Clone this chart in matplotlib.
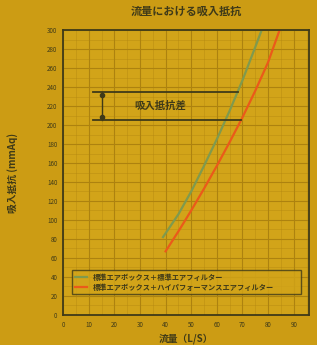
import numpy as np
import matplotlib
matplotlib.use("Agg")
from matplotlib import pyplot as plt

plt.rcParams['font.family'] = ['Noto Sans CJK JP', 'DejaVu Sans']

# datos
flujo_std = [39, 45, 50, 55, 60, 65, 70, 75, 77.5]
res_std = [82, 106, 130, 157, 185, 215, 247, 282, 300]
flujo_hp = [40, 45, 50, 55, 60, 65, 70, 75, 80, 84.5]
res_hp = [67, 88, 110, 133, 157, 182, 208, 236, 266, 300]
label_std = "標準エアボックス＋標準エアフィルター"
label_hp = "標準エアボックス＋ハイパフォーマンスエアフィルター"
diff_top = 235
diff_bot = 205
xticks = list(range(0, 100, 10))
yticks = list(range(0, 320, 20))

bg = "#cc9c14"
grid_c = "#ad820f"
dark = "#3f3a18"

fig = plt.figure(figsize=(3.17, 3.45), dpi=100, facecolor=bg)
ax = fig.add_axes([0.199, 0.087, 0.776, 0.826], facecolor="#d2a419")

ax.plot(flujo_std, res_std, color="#7f9a4e", lw=1.6, label=label_std)
ax.plot(flujo_hp, res_hp, color="#ea5a1a", lw=1.6, label=label_hp)

ax.set_xlim(0, 96)
ax.set_ylim(0, 300)
ax.set_xticks(xticks)
ax.set_yticks(yticks)
ax.set_xticks(np.arange(5, 96, 10), minor=True)
ax.set_yticks(np.arange(10, 300, 20), minor=True)
ax.grid(True, which="major", color=grid_c, lw=0.8)
ax.grid(True, which="minor", color=grid_c, lw=0.4, alpha=0.6)
ax.tick_params(which="both", length=0, labelsize=4.5, colors=dark, pad=4)
for s in ax.spines.values():
    s.set_color(dark)
    s.set_linewidth(1.3)

# corchete de diferencia
x_end_top = np.interp(diff_top, res_std, flujo_std)
x_end_bot = np.interp(diff_bot, res_hp, flujo_hp)
ax.plot([11.5, x_end_top], [diff_top, diff_top], color=dark, lw=1.3)
ax.plot([11.5, x_end_bot], [diff_bot, diff_bot], color=dark, lw=1.3)
ax.plot([15, 15], [diff_bot, diff_top], color=dark, lw=1.0)
ax.plot([15, 15], [diff_bot + 3, diff_top - 3], "o", color=dark, ms=3)
ax.text(38, (diff_top + diff_bot) / 2, "吸入抵抗差", ha="center", va="center",
        fontsize=7.5, fontweight="bold", color=dark)

leg = ax.legend(loc="lower left", bbox_to_anchor=(0.02, 0.06, 0.96, 0.1), mode="expand",
                frameon=True, fancybox=False, handlelength=1.6,
                borderpad=0.5, labelspacing=0.35, prop={'weight': 'bold', 'size': 5.2})
leg.get_frame().set_facecolor("#d2a419")
leg.get_frame().set_edgecolor(dark)
leg.get_frame().set_linewidth(1.0)
for t in leg.get_texts():
    t.set_color(dark)

ax.set_title("流量における吸入抵抗", fontsize=8, fontweight="bold", color=dark, pad=11)
ax.set_xlabel("流量（L/S）", fontsize=7, fontweight="bold", color=dark, labelpad=3)
ax.set_ylabel("吸入抵抗 (mmAq)", fontsize=7, fontweight="bold", color=dark)
ax.yaxis.set_label_coords(-0.185, 0.5)

fig.savefig("out.png", dpi=100, facecolor=bg)
